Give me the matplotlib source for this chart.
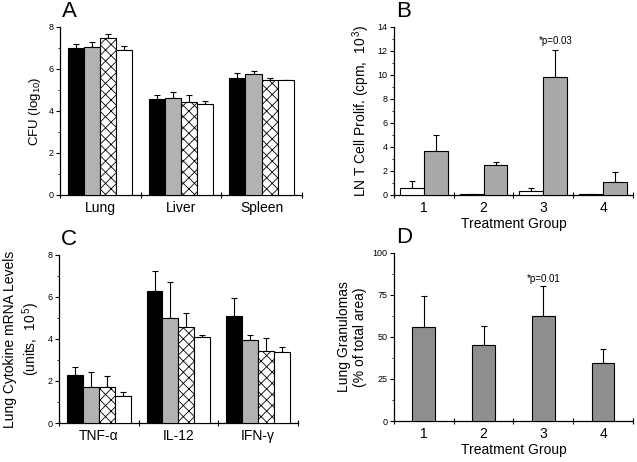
import matplotlib
matplotlib.use("Agg")
import matplotlib.pyplot as plt
import numpy as np
from matplotlib.ticker import MultipleLocator, FixedLocator

plt.rcParams.update({
    "font.family": ["Liberation Sans", "DejaVu Sans"],
    "hatch.linewidth": 0.6,
    "axes.linewidth": 0.9,
    "mathtext.fontset": "custom",
    "mathtext.rm": "Liberation Sans",
    "mathtext.it": "Liberation Sans:italic",
})

# Panel A: CFU per organ, four treatment groups
organs = ["Lung", "Liver", "Spleen"]
cfu_g1 = [6.97, 4.55, 5.58]
cfu_g2 = [7.02, 4.60, 5.74]
cfu_g3 = [7.46, 4.41, 5.45]
cfu_g4 = [6.91, 4.35, 5.45]
cfu_err1 = [0.21, 0.19, 0.21]
cfu_err2 = [0.24, 0.29, 0.16]
cfu_err3 = [0.19, 0.36, 0.13]
cfu_err4 = [0.20, 0.12, 0.0]

# Panel B: LN T cell proliferation
groups = [1, 2, 3, 4]
prolif_ctrl = [0.56, 0.12, 0.33, 0.10]
prolif_ctrl_err = [0.64, 0.0, 0.27, 0.0]
prolif_ag = [3.70, 2.50, 9.86, 1.10]
prolif_ag_err = [1.30, 0.28, 2.22, 0.85]

# Panel C: lung cytokine mRNA
cytokines = ["TNF-\u03b1", "IL-12", "IFN-\u03b3"]
cyt_g1 = [2.30, 6.27, 5.07]
cyt_g2 = [1.69, 4.99, 3.95]
cyt_g3 = [1.73, 4.56, 3.42]
cyt_g4 = [1.28, 4.09, 3.37]
cyt_err1 = [0.36, 0.98, 0.90]
cyt_err2 = [0.75, 1.74, 0.22]
cyt_err3 = [0.50, 0.67, 0.62]
cyt_err4 = [0.19, 0.08, 0.26]

# Panel D: lung granulomas
gran = [56.0, 45.2, 62.3, 34.5]
gran_err = [18.2, 11.1, 18.1, 8.2]

fig = plt.figure(figsize=(6.37, 4.62), dpi=100)
axA = fig.add_axes([0.094, 0.578, 0.380, 0.364])
axB = fig.add_axes([0.6185, 0.578, 0.375, 0.364])
axC = fig.add_axes([0.0926, 0.0844, 0.375, 0.364])
axD = fig.add_axes([0.6185, 0.0887, 0.375, 0.364])

EK = dict(elinewidth=0.8, capsize=2.0, capthick=0.8, ecolor="black")
FILLS = [dict(color="black"), dict(color="#b2b2b2"),
         dict(color="white", hatch="xxx"), dict(color="white")]


def style(ax, n, ymax, major, minor, fs_x=10):
    for s in ("top", "right"):
        ax.spines[s].set_visible(False)
    lo = -0.5 if n == 3 else 0.5
    ax.set_xlim(lo, lo + n)
    ax.set_ylim(0, ymax)
    ax.yaxis.set_major_locator(MultipleLocator(major))
    ax.yaxis.set_minor_locator(MultipleLocator(minor))
    ax.xaxis.set_minor_locator(FixedLocator([lo + i for i in range(n + 1)]))
    ax.tick_params(axis="y", which="major", direction="out", length=3, width=0.8, labelsize=6.5, pad=1.5)
    ax.tick_params(axis="y", which="minor", direction="out", length=1.5, width=0.6)
    ax.tick_params(axis="x", which="major", length=0, labelsize=fs_x, pad=4)
    ax.tick_params(axis="x", which="minor", direction="inout", length=4, width=0.8)


def grouped(ax, cats, vals, errs):
    x = np.arange(len(cats))
    w = 0.2
    for i, (v, e, f) in enumerate(zip(vals, errs, FILLS)):
        pos = x + (i - 1.5) * w
        ax.errorbar(pos, v, yerr=[np.zeros(len(e)), e], fmt="none", zorder=2, **EK)
        kw = dict(f)
        col = kw.pop("color")
        ax.bar(pos, v, width=w, facecolor=col, edgecolor="black", linewidth=0.8, zorder=3, **kw)
    ax.set_xticks(x)
    ax.set_xticklabels(cats)


# A
grouped(axA, organs, [cfu_g1, cfu_g2, cfu_g3, cfu_g4], [cfu_err1, cfu_err2, cfu_err3, cfu_err4])
style(axA, 3, 8, 2, 1)
axA.set_ylabel("CFU (log$_{10}$)", fontsize=9.5)

# B
xb = np.array(groups)
axB.errorbar(xb - 0.2, prolif_ctrl, yerr=[np.zeros(4), prolif_ctrl_err], fmt="none", zorder=2, **EK)
axB.errorbar(xb + 0.2, prolif_ag, yerr=[np.zeros(4), prolif_ag_err], fmt="none", zorder=2, **EK)
axB.bar(xb - 0.2, prolif_ctrl, width=0.4, facecolor="white", edgecolor="black", linewidth=0.8, zorder=3)
axB.bar(xb + 0.2, prolif_ag, width=0.4, facecolor="#a9a9a9", edgecolor="black", linewidth=0.8, zorder=3)
style(axB, 4, 14, 2, 1)
axB.set_xticks(xb)
axB.set_xticklabels([str(g) for g in groups])
axB.set_xlabel("Treatment Group", fontsize=10, labelpad=2)
axB.set_ylabel("LN T Cell Prolif. (cpm,  10$^{\\,3}$)", fontsize=10)
axB.text(3.2, prolif_ag[2] + prolif_ag_err[2] + 0.3, "*p=0.03", ha="center", va="bottom", fontsize=7)

# C
grouped(axC, cytokines, [cyt_g1, cyt_g2, cyt_g3, cyt_g4], [cyt_err1, cyt_err2, cyt_err3, cyt_err4])
style(axC, 3, 8, 2, 1)
axC.set_ylabel("Lung Cytokine mRNA Levels\n(units,  10$^{\\,5}$)", fontsize=10)

# D
axD.errorbar(xb, gran, yerr=[np.zeros(4), gran_err], fmt="none", zorder=2, **EK)
axD.bar(xb, gran, width=0.38, facecolor="#8e8e8e", edgecolor="black", linewidth=0.8, zorder=3)
style(axD, 4, 100, 25, 12.5)
axD.set_xticks(xb)
axD.set_xticklabels([str(g) for g in groups])
axD.set_xlabel("Treatment Group", fontsize=10, labelpad=2)
axD.set_ylabel("Lung Granulomas\n(% of total area)", fontsize=10)
axD.text(3, gran[2] + gran_err[2] + 1.2, "*p=0.01", ha="center", va="bottom", fontsize=7)

for ax, letter in zip((axA, axB, axC, axD), "ABCD"):
    ax.text(0.01, 1.03, letter, transform=ax.transAxes, fontsize=16, ha="left", va="bottom")

fig.savefig("out.png", dpi=100)
